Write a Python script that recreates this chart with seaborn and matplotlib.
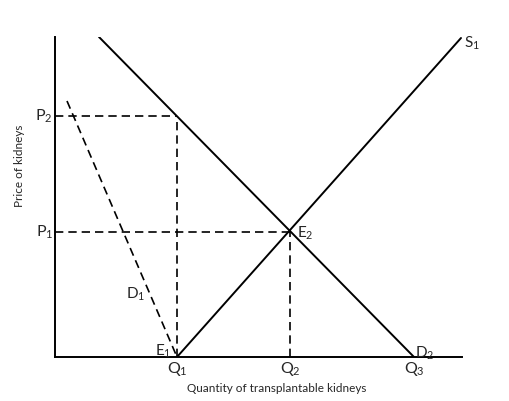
import matplotlib
matplotlib.use('Agg')
import matplotlib.pyplot as plt
import pandas as pd
import seaborn as sns

# curves (x = quantity, y = price)
d2_q = [44, 359]
d2_p = [320, 0]
s1_q = [122, 406]
s1_p = [0, 319]
d1_q = [12, 122]
d1_p = [256, 0]

q_ticks = [122, 235, 359]
q_labels = ['Q$_1$', 'Q$_2$', 'Q$_3$']
p_ticks = [241, 125]
p_labels = ['P$_2$', 'P$_1$']

sns.set_style('white')
plt.rcParams['font.family'] = ['Lato', 'DejaVu Sans']
plt.rcParams['mathtext.fontset'] = 'custom'
plt.rcParams['mathtext.rm'] = 'Lato'
plt.rcParams['mathtext.it'] = 'Lato'
plt.rcParams['mathtext.default'] = 'regular'

fig = plt.figure(figsize=(5.09, 4.01), dpi=100)
ax = fig.add_axes([55 / 509, 44 / 401, 407 / 509, 320 / 401])

dash = (0, (5, 3))
sns.lineplot(x=d2_q, y=d2_p, ax=ax, color='black', lw=1.4)
sns.lineplot(x=s1_q, y=s1_p, ax=ax, color='black', lw=1.4)
sns.lineplot(x=d1_q, y=d1_p, ax=ax, color='black', lw=1.2, linestyle=dash)

# guide lines from P to D2 / equilibrium
for q, p in zip([q_ticks[0], q_ticks[1]], p_ticks):
    ax.plot([0, q], [p, p], color='black', lw=1.2, ls=dash)
    ax.plot([q, q], [0, p], color='black', lw=1.2, ls=dash)

ax.set_xlim(0, 407)
ax.set_ylim(0, 320)
ax.set_xticks([])
ax.set_yticks([])
for s in ['top', 'right']:
    ax.spines[s].set_visible(False)
for s in ['left', 'bottom']:
    ax.spines[s].set_color('black')
    ax.spines[s].set_linewidth(1.4)

for q, lab in zip(q_ticks, q_labels):
    ax.text(q, -12, lab, ha='center', va='center', fontsize=11.5)
for p, lab in zip(p_ticks, p_labels):
    ax.text(-2, p, lab, ha='right', va='center', fontsize=11.5)

ax.text(116, 6, 'E$_1$', ha='right', va='center', fontsize=11)
ax.text(242, 124, 'E$_2$', ha='left', va='center', fontsize=11)
ax.text(81, 63, 'D$_1$', ha='center', va='center', fontsize=11)
ax.text(360, 4, 'D$_2$', ha='left', va='center', fontsize=11)
ax.text(409, 314, 'S$_1$', ha='left', va='center', fontsize=11)

ax.text(222, -31, 'Quantity of transplantable kidneys', ha='center', va='center',
        fontsize=8.5, clip_on=False)
ax.text(-35, 191, 'Price of kidneys', ha='center', va='center', rotation=90,
        fontsize=8.5, clip_on=False)

fig.savefig('out.png', dpi=100)
